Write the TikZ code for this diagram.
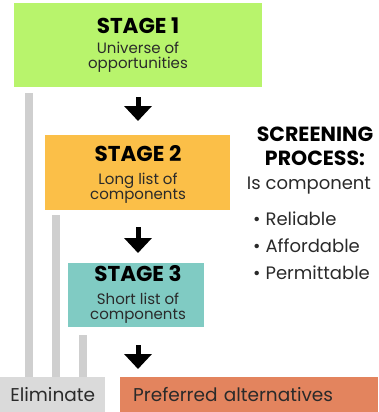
\documentclass[tikz,border=0pt]{standalone}
\usepackage{fontspec}
\setmainfont{Poppins}
\usetikzlibrary{arrows.meta,calc}
\definecolor{sgreen}{HTML}{B8F46C}
\definecolor{sorange}{HTML}{FBBF48}
\definecolor{steal}{HTML}{80CBC3}
\definecolor{sgray}{HTML}{DADADA}
\definecolor{ssalmon}{HTML}{E3845E}
\definecolor{sbar}{HTML}{CFCFCF}
\definecolor{stext}{HTML}{2A2A2A}
\tikzset{
  stagebox/.style={anchor=north west, inner sep=0pt, align=center, text=stext},
  ttl/.style={font=\fontsize{21.5}{22}\selectfont\bfseries, text=black, inner sep=0pt},
  sub/.style={font=\fontsize{15}{15}\selectfont, text=stext, align=center, inner sep=0pt},
  flowarrow/.style={line width=5pt, -{Triangle[width=27pt,length=15pt]}},
  elimbar/.style={draw=sbar, line width=8pt},
  side/.style={font=\fontsize{18}{20}\selectfont, text=stext, inner sep=0pt},
  head/.style={font=\fontsize{20.5}{22}\selectfont\bfseries, text=black, inner sep=0pt},
}
\begin{document}
\begin{tikzpicture}[x=1pt,y=-1pt]
\useasboundingbox (0,0) rectangle (378,412);
% boxes
\node[stagebox, fill=sgreen, minimum width=248pt, minimum height=84pt] (s1) at (14,3) {};
\node[stagebox, fill=sorange, minimum width=185pt, minimum height=75pt] (s2) at (45,135) {};
\node[stagebox, fill=steal, minimum width=136pt, minimum height=64pt] (s3) at (68,263) {};
\node[anchor=north west, fill=sgray, minimum width=105pt, minimum height=35pt, inner sep=0pt,
      font=\fontsize{18.5}{20}\selectfont, text=stext] (elim) at (0,377) {Eliminate};
\node[anchor=north west, fill=ssalmon, text width=232pt, inner xsep=13pt, inner ysep=0pt,
      minimum height=35pt, align=left, font=\fontsize{18.5}{20}\selectfont, text=stext] (pref) at (120,377) {Preferred alternatives};
% stage texts
\node[ttl] (t1) at (138,26) {STAGE 1};
\node[sub] (u1) at (138,57) {Universe of\\opportunities};
\node[ttl] (t2) at (138,154) {STAGE 2};
\node[sub] (u2) at (138,188) {Long list of\\components};
\node[ttl] (t3) at (138,274) {STAGE 3};
\node[sub] (u3) at (138,308) {Short list of\\components};
% arrows
\coordinate (a1s) at (138,97);
\coordinate (a1e) at (138,121);
\coordinate (a2s) at (138,227);
\coordinate (a2e) at (138,253);
\coordinate (a3s) at (138,345);
\coordinate (a3e) at (138,369);
\draw[flowarrow] (a1s) -- (a1e);
\draw[flowarrow] (a2s) -- (a2e);
\draw[flowarrow] (a3s) -- (a3e);
% eliminate bars
\coordinate (b1) at (29,93);
\coordinate (b2) at (56,215);
\coordinate (b3) at (82.5,335);
\draw[elimbar] (b1) -- (b1 |- elim.north);
\draw[elimbar] (b2) -- (b2 |- elim.north);
\draw[elimbar] (b3) -- (b3 |- elim.north);
% screening
\node[head] (sc1) at (315,134) {SCREENING};
\node[head] (sc2) at (315,158) {PROCESS:};
\node[side] (isc) at (309,186) {Is component};
\node[side, anchor=west] (r1) at (253,219) {\textbullet\hspace{5pt}Reliable};
\node[side, anchor=west] (r2) at (253,246) {\textbullet\hspace{5pt}Affordable};
\node[side, anchor=west] (r3) at (253,273) {\textbullet\hspace{5pt}Permittable};
\end{tikzpicture}
\end{document}
